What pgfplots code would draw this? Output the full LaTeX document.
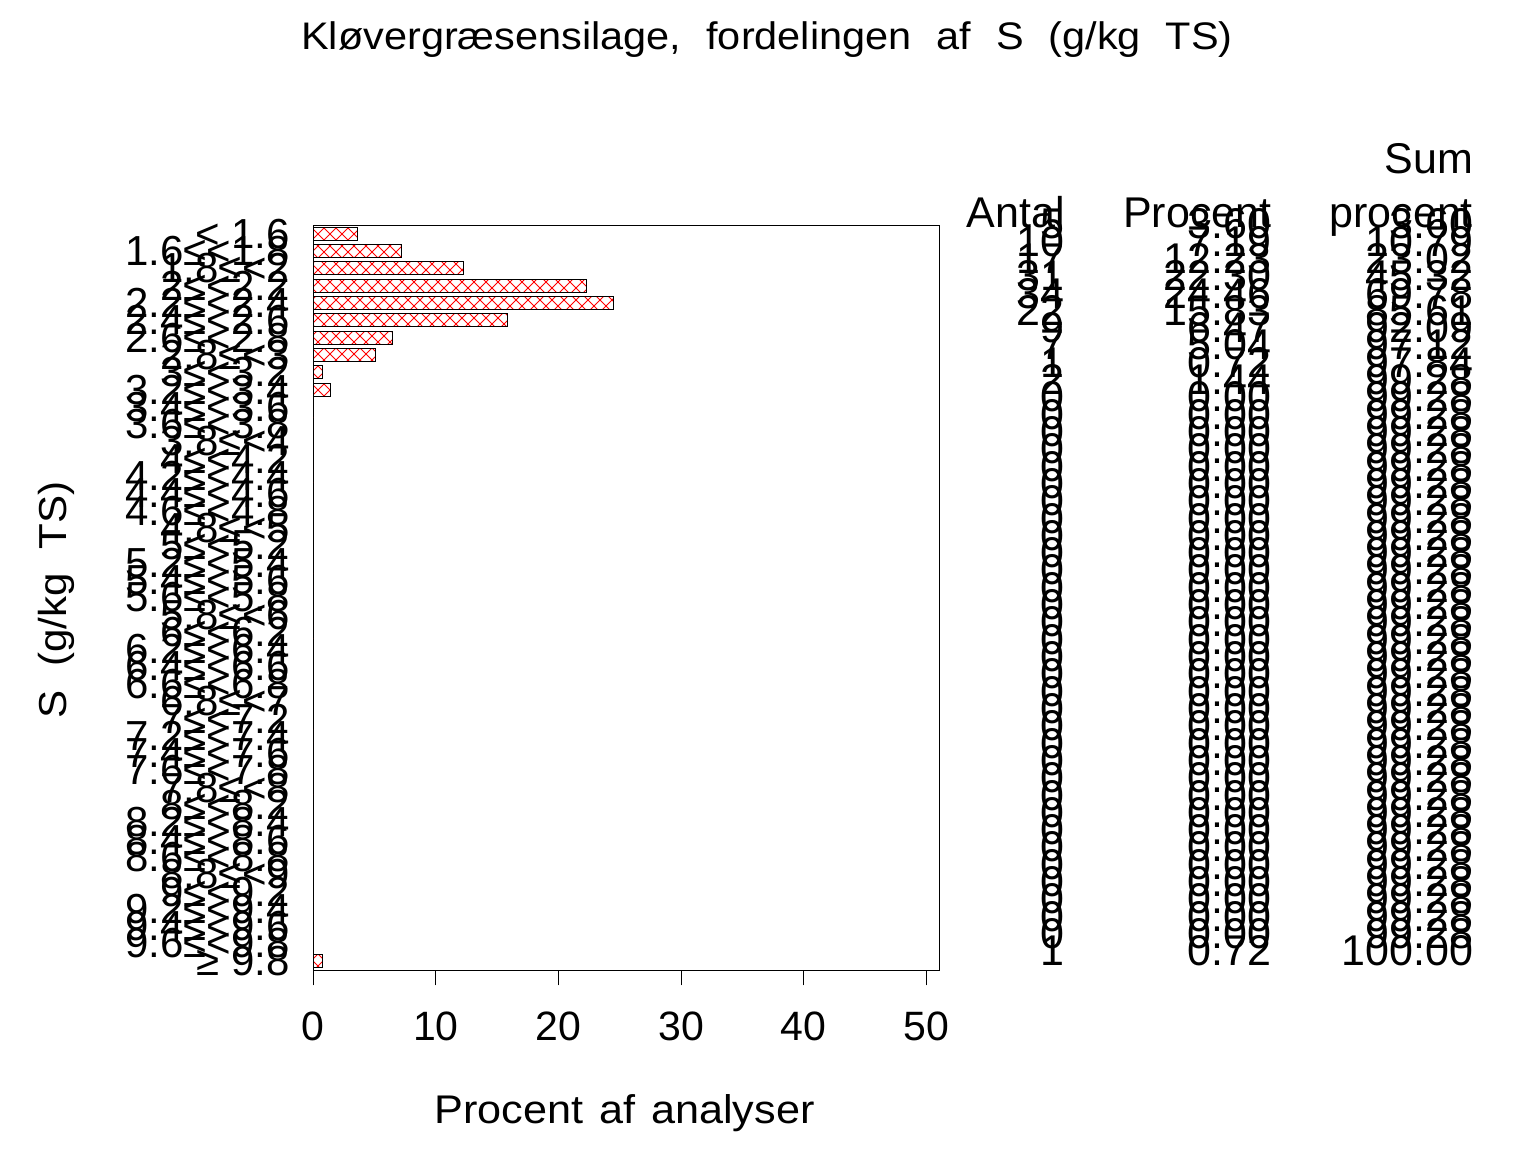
\documentclass[border=0pt]{standalone}
\usepackage{fontspec}
\setmainfont{Liberation Sans}
\newfontfamily\wfont{Liberation Sans}[FakeStretch=1.08]
\usepackage{pgfplots}
\pgfplotsset{compat=1.18}
\usepackage{pgfplotstable}
\usetikzlibrary{patterns}
\pgfdeclarepatternformonly{redx}{\pgfqpoint{-1pt}{-1pt}}{\pgfqpoint{7pt}{7pt}}{\pgfqpoint{6pt}{6pt}}{%
 \pgfsetlinewidth{0.5pt}%
 \pgfpathmoveto{\pgfqpoint{0pt}{0pt}}\pgfpathlineto{\pgfqpoint{6pt}{6pt}}%
 \pgfpathmoveto{\pgfqpoint{0pt}{6pt}}\pgfpathlineto{\pgfqpoint{6pt}{0pt}}%
 \pgfusepath{stroke}}
\newcommand\tabfont{\fontsize{21.5}{24}\selectfont}
\newcommand\gap{\hspace{0.65em}}
\pgfplotstableread{
idx pct antal p cum
0 3.60 5 3.60 3.60
1 7.19 10 7.19 10.79
2 12.23 17 12.23 23.02
3 22.30 31 22.30 45.32
4 24.46 34 24.46 69.78
5 15.83 22 15.83 85.61
6 6.47 9 6.47 92.09
7 5.04 7 5.04 97.12
8 0.72 1 0.72 97.84
9 1.44 2 1.44 99.28
10 0 0 0.00 99.28
11 0 0 0.00 99.28
12 0 0 0.00 99.28
13 0 0 0.00 99.28
14 0 0 0.00 99.28
15 0 0 0.00 99.28
16 0 0 0.00 99.28
17 0 0 0.00 99.28
18 0 0 0.00 99.28
19 0 0 0.00 99.28
20 0 0 0.00 99.28
21 0 0 0.00 99.28
22 0 0 0.00 99.28
23 0 0 0.00 99.28
24 0 0 0.00 99.28
25 0 0 0.00 99.28
26 0 0 0.00 99.28
27 0 0 0.00 99.28
28 0 0 0.00 99.28
29 0 0 0.00 99.28
30 0 0 0.00 99.28
31 0 0 0.00 99.28
32 0 0 0.00 99.28
33 0 0 0.00 99.28
34 0 0 0.00 99.28
35 0 0 0.00 99.28
36 0 0 0.00 99.28
37 0 0 0.00 99.28
38 0 0 0.00 99.28
39 0 0 0.00 99.28
40 0 0 0.00 99.28
41 0 0 0.00 99.28
42 0.72 1 0.72 100.00
}\data
\begin{document}
\begin{tikzpicture}
\useasboundingbox (0,0) rectangle (768pt,576pt);
\begin{axis}[
 at={(313.15pt,277.175pt)}, anchor=center,
 scale only axis, width=313pt, height=372.65pt,
 xmin=0, xmax=51.06, ymin=-0.508, ymax=42.55, y dir=reverse,
 clip=false,
 axis line style={line width=0.5pt, black},
 xtick={0,10,20,30,40,50}, xtick pos=bottom, tick align=outside,
 major tick length=7.5pt,
 x tick style={line width=0.5pt, black},
 ytick={0,...,42}, ytick pos=left, y tick style={draw=none},
 yticklabels={{< 1.6},1.6≤<1.8,1.8≤<2,2≤<2.2,2.2≤<2.4,2.4≤<2.6,2.6≤<2.8,2.8≤<3,3≤<3.2,3.2≤<3.4,3.4≤<3.6,3.6≤<3.8,3.8≤<4,4≤<4.2,4.2≤<4.4,4.4≤<4.6,4.6≤<4.8,4.8≤<5,5≤<5.2,5.2≤<5.4,5.4≤<5.6,5.6≤<5.8,5.8≤<6,6≤<6.2,6.2≤<6.4,6.4≤<6.6,6.6≤<6.8,6.8≤<7,7≤<7.2,7.2≤<7.4,7.4≤<7.6,7.6≤<7.8,7.8≤<8,8≤<8.2,8.2≤<8.4,8.4≤<8.6,8.6≤<8.8,8.8≤<9,9≤<9.2,9.2≤<9.4,9.4≤<9.6,9.6≤<9.8,{≥ 9.8}},
 /pgf/number format/assume math mode=true,
 xticklabel style={font=\fontsize{20.5}{24}\selectfont, anchor=north, inner sep=0pt, yshift=-12.85pt},
 yticklabel style={font=\fontsize{21}{24}\selectfont, anchor=east, inner sep=0pt, xshift=-4pt},
 title={\wfont Kløvergræsensilage,\gap fordelingen\gap af\gap S\gap (g/kg\gap TS)},
 title style={at={(axis description cs:0.7248,1.2196)}, anchor=base, inner sep=0pt, font=\fontsize{19.2}{22}\selectfont},
 xlabel={\wfont Procent\hspace{0.4em}af\hspace{0.4em}analyser},
 xlabel style={at={(axis description cs:0.497,-0.2058)}, anchor=base, inner sep=0pt, font=\fontsize{20}{22}\selectfont},
 ylabel={\wfont S\hspace{0.6em}(g/kg\hspace{0.6em}TS)},
 ylabel style={at={(axis description cs:-0.411,0.4968)}, anchor=center, inner sep=0pt, font=\fontsize{19.5}{22}\selectfont},
]
\addplot[xbar, bar width=6.5pt, bar shift=0pt, draw=black, line width=0.5pt, pattern=redx, pattern color=red] table[x=pct, y=idx]{\data};
\addplot[draw=none, mark=none, nodes near coords, point meta=explicit symbolic,
 nodes near coords style={anchor=base east, inner sep=0pt, yshift=-2.5pt, font=\tabfont}]
 table[x expr=61.31, y=idx, meta=antal]{\data};
\addplot[draw=none, mark=none, nodes near coords, point meta=explicit symbolic,
 nodes near coords style={anchor=base east, inner sep=0pt, yshift=-2.5pt, font=\tabfont}]
 table[x expr=78.17, y=idx, meta=p]{\data};
\addplot[draw=none, mark=none, nodes near coords, point meta=explicit symbolic,
 nodes near coords style={anchor=base east, inner sep=0pt, yshift=-2.5pt, font=\tabfont}]
 table[x expr=94.62, y=idx, meta=cum]{\data};
\node[anchor=base east, inner sep=0pt, font=\tabfont] at (axis cs:61.31,-0.39) {Antal};
\node[anchor=base east, inner sep=0pt, font=\tabfont] at (axis cs:78.17,-0.39) {Procent};
\node[anchor=base east, inner sep=0pt, font=\tabfont] at (axis cs:94.62,-0.39) {procent};
\node[anchor=base east, inner sep=0pt, font=\tabfont] at (axis cs:94.62,-3.5) {Sum};
\end{axis}
\end{tikzpicture}
\end{document}
